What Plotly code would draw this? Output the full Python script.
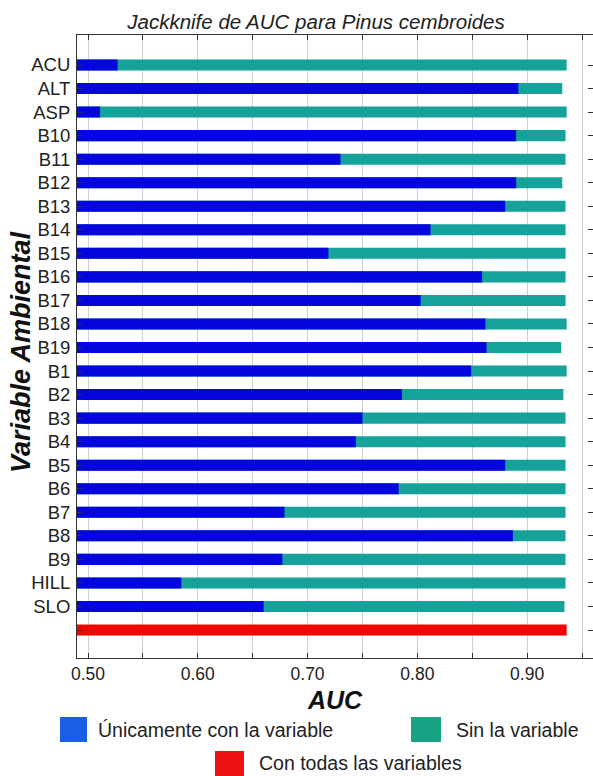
import plotly.graph_objects as go

# ---- data ----
variables = ["ACU", "ALT", "ASP", "B10", "B11", "B12", "B13", "B14", "B15", "B16",
             "B17", "B18", "B19", "B1", "B2", "B3", "B4", "B5", "B6", "B7",
             "B8", "B9", "HILL", "SLO"]
auc_only_variable = [0.527, 0.892, 0.511, 0.890, 0.730, 0.890, 0.880, 0.812, 0.719, 0.859,
                     0.803, 0.862, 0.863, 0.849, 0.786, 0.750, 0.744, 0.880, 0.783, 0.679,
                     0.887, 0.677, 0.585, 0.660]
auc_without_variable = [0.936, 0.932, 0.936, 0.935, 0.935, 0.932, 0.935, 0.935, 0.935, 0.935,
                        0.935, 0.936, 0.931, 0.936, 0.933, 0.935, 0.935, 0.935, 0.935, 0.935,
                        0.935, 0.935, 0.935, 0.934]
auc_all_variables = 0.936
all_row_label = " "
x_tick_values = [0.50, 0.55, 0.60, 0.65, 0.70, 0.75, 0.80, 0.85, 0.90, 0.95]
x_tick_labels = ["0.50", "", "0.60", "", "0.70", "", "0.80", "", "0.90", ""]

legend_labels = ["Únicamente con la variable", "Sin la variable", "Con todas las variables"]

# ---- styling ----
BAR_BLUE = "#0505de"
BAR_TEAL = "#15a29b"
BAR_RED = "#f20505"
LEG_BLUE = "#1a5ee6"
LEG_TEAL = "#17a384"
LEG_RED = "#ee1212"
FONT = "Liberation Sans, Arial, sans-serif"

W, H = 593.0, 776.0
PL, PR, PT, PB = 77, 593, 35, 658   # plot area in pixels

rows = variables + [all_row_label]
n_rows = len(rows)
bar_w = 0.47

fig = go.Figure()
fig.add_trace(go.Bar(y=variables, x=auc_without_variable, orientation="h",
                     marker=dict(color=BAR_TEAL, line=dict(width=0)),
                     width=bar_w, name=legend_labels[1], showlegend=False))
fig.add_trace(go.Bar(y=variables, x=auc_only_variable, orientation="h",
                     marker=dict(color=BAR_BLUE, line=dict(width=0)),
                     width=bar_w, name=legend_labels[0], showlegend=False))
fig.add_trace(go.Bar(y=[all_row_label], x=[auc_all_variables], orientation="h",
                     marker=dict(color=BAR_RED, line=dict(width=0)),
                     width=bar_w, name=legend_labels[2], showlegend=False))

fig.update_layout(
    width=593, height=776,
    margin=dict(l=PL, r=W - PR, t=PT, b=H - PB, autoexpand=False),
    paper_bgcolor="white", plot_bgcolor="white",
    barmode="overlay",
    font=dict(family=FONT, color="#1a1a1a"),
    title=dict(text="<i>Jackknife de AUC para Pinus cembroides</i>",
               x=316 / W, xanchor="center", xref="container",
               y=1 - 22 / H, yanchor="middle", yref="container",
               font=dict(family=FONT, size=20.5, color="#222")),
    showlegend=False,
)

fig.update_xaxes(
    range=[0.48998, 0.96], tickvals=x_tick_values, ticktext=x_tick_labels,
    ticks="inside", ticklen=5, tickcolor="#333", tickwidth=1,
    showgrid=True, gridcolor="#cfcfcf", gridwidth=1,
    showline=True, linecolor="#333", linewidth=1, mirror="allticks",
    tickfont=dict(size=17.5, color="#222"),
    title=dict(text="<b><i>AUC</i></b>", font=dict(size=25, color="#111"), standoff=8),
    zeroline=False, automargin=False,
)
fig.update_yaxes(
    type="category", categoryorder="array", categoryarray=rows,
    range=[n_rows - 1 + 28 / 23.54, -30 / 23.54],
    ticks="inside", ticklen=5, tickcolor="#333",
    showgrid=False, showline=True, linecolor="#333", linewidth=1, mirror="allticks",
    tickfont=dict(size=18.5, color="#222"),
    ticklabelstandoff=2,
    automargin=False,
)

def px_x(v):
    return (v - PL) / (PR - PL)

def px_y(v):
    return (PB - v) / (PB - PT)

# y-axis title
fig.add_annotation(text="<b><i>Variable Ambiental</i></b>", textangle=-90,
                   xref="paper", yref="paper", x=px_x(21), y=px_y(352),
                   xanchor="center", yanchor="middle", showarrow=False,
                   font=dict(family=FONT, size=27, color="#111"))

# ---- legend drawn below the plot (swatches + text) ----
swatches = [
    (60, 87, 717, 742, LEG_BLUE, legend_labels[0], 96, 730),
    (411, 441, 717, 742, LEG_TEAL, legend_labels[1], 454, 730),
    (215, 244, 751, 776, LEG_RED, legend_labels[2], 257, 763),
]
for x0, x1, y0, y1, col, label, tx, ty in swatches:
    fig.add_shape(type="rect", xref="paper", yref="paper",
                  x0=px_x(x0), x1=px_x(x1), y0=px_y(y1), y1=px_y(y0),
                  fillcolor=col, line=dict(width=0), layer="above")
    fig.add_annotation(text=label, xref="paper", yref="paper",
                       x=px_x(tx), y=px_y(ty),
                       xanchor="left", yanchor="middle", showarrow=False,
                       font=dict(family=FONT, size=19.5, color="#222"))

fig.write_html("out.html", config={"displayModeBar": False},
               post_script="document.body.style.margin='0';document.body.style.padding='0';")
